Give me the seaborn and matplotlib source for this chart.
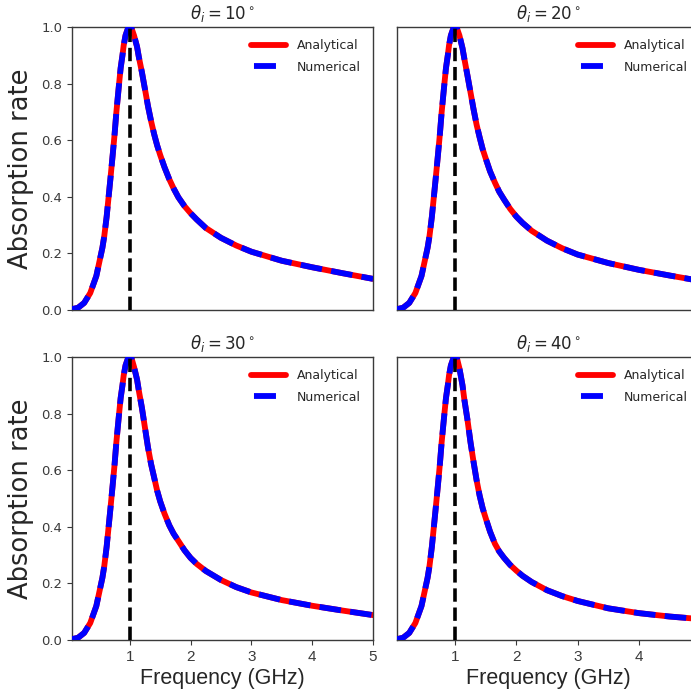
import numpy as np
import pandas as pd
import matplotlib
matplotlib.use("Agg")
import matplotlib.pyplot as plt
import seaborn as sns

# ---- data ----
freq_ghz = [0.05, 0.15, 0.25, 0.35, 0.45, 0.55, 0.58, 0.62, 0.68, 0.72, 0.75, 0.78, 0.82, 0.85,
            0.88, 0.9, 0.93, 0.97, 1.0, 1.03, 1.07, 1.12, 1.15, 1.2, 1.25, 1.3, 1.35, 1.4, 1.45,
            1.5, 1.57, 1.65, 1.72, 1.8, 1.9, 2.0, 2.1, 2.25, 2.5, 2.75, 3.0, 3.5, 4.0, 4.5, 5.0]
absorb_10 = [0.003, 0.008, 0.025, 0.06, 0.12, 0.22, 0.26, 0.33, 0.46, 0.55, 0.62, 0.70, 0.79, 0.855,
             0.90, 0.935, 0.97, 0.995, 1.0, 0.995, 0.97, 0.93, 0.893, 0.84, 0.78, 0.72, 0.668, 0.622, 0.582,
             0.548, 0.505, 0.462, 0.43, 0.398, 0.367, 0.342, 0.32, 0.29, 0.255, 0.228, 0.206, 0.174, 0.151, 0.13, 0.11]
absorb_20 = [0.003, 0.008, 0.025, 0.06, 0.12, 0.22, 0.26, 0.33, 0.46, 0.55, 0.62, 0.70, 0.79, 0.855,
             0.90, 0.935, 0.97, 0.995, 1.0, 0.995, 0.97, 0.925, 0.888, 0.83, 0.77, 0.71, 0.655, 0.61, 0.568,
             0.535, 0.49, 0.45, 0.418, 0.39, 0.357, 0.33, 0.308, 0.28, 0.245, 0.218, 0.196, 0.166, 0.142, 0.122, 0.103]
absorb_30 = [0.003, 0.008, 0.025, 0.06, 0.12, 0.22, 0.26, 0.33, 0.46, 0.55, 0.62, 0.70, 0.79, 0.855,
             0.90, 0.935, 0.97, 0.995, 1.0, 0.995, 0.965, 0.92, 0.88, 0.82, 0.75, 0.68, 0.622, 0.575, 0.528,
             0.49, 0.447, 0.405, 0.376, 0.35, 0.317, 0.29, 0.269, 0.244, 0.212, 0.187, 0.168, 0.141, 0.121, 0.104, 0.088]
absorb_40 = [0.003, 0.008, 0.025, 0.06, 0.12, 0.22, 0.26, 0.33, 0.46, 0.55, 0.62, 0.70, 0.79, 0.855,
             0.90, 0.935, 0.97, 0.995, 1.0, 0.995, 0.96, 0.90, 0.85, 0.78, 0.70, 0.63, 0.565, 0.51, 0.465,
             0.43, 0.383, 0.34, 0.313, 0.29, 0.265, 0.245, 0.227, 0.205, 0.176, 0.155, 0.138, 0.112, 0.095, 0.083, 0.074]
angles = [10, 20, 30, 40]
series = {10: absorb_10, 20: absorb_20, 30: absorb_30, 40: absorb_40}
resonance_ghz = 1.0
x_ticks_left = [1, 2, 3, 4, 5]
x_ticks_right = [1, 2, 3, 4]
y_ticks = [0.0, 0.2, 0.4, 0.6, 0.8, 1.0]

rows = []
for a in angles:
    for f, v in zip(freq_ghz, series[a]):
        rows.append({"angle": a, "freq": f, "absorption": v})
df = pd.DataFrame(rows)

sns.set_style("white")
plt.rcParams["font.family"] = ["DejaVu Sans"]
plt.rcParams["axes.edgecolor"] = "#3a3a3a"
plt.rcParams["xtick.color"] = "#3a3a3a"
plt.rcParams["ytick.color"] = "#3a3a3a"
plt.rcParams["xtick.major.size"] = 3.5
plt.rcParams["ytick.major.size"] = 3.5
plt.rcParams["xtick.bottom"] = True
plt.rcParams["ytick.left"] = True

W, H = 691, 695
fig = plt.figure(figsize=(W / 100, H / 100), dpi=100)

col_left = [72, 397]
col_w = [301, 303]
row_top = [27, 357]
row_h = 283

xfont = ["Liberation Sans", "DejaVu Sans"]
LW = 4.2

for idx, a in enumerate(angles):
    r, c = divmod(idx, 2)
    ax = fig.add_axes([col_left[c] / W, 1 - (row_top[r] + row_h) / H, col_w[c] / W, row_h / H])
    d = df[df["angle"] == a]
    sns.lineplot(data=d, x="freq", y="absorption", ax=ax, color="#ff0000", lw=LW,
                 label="Analytical", zorder=2)
    sns.lineplot(data=d, x="freq", y="absorption", ax=ax, color="#0000ff", lw=LW,
                 linestyle="--", label="Numerical", zorder=3)
    ax.axvline(resonance_ghz, color="black", lw=2.6, linestyle="--", zorder=4)
    ax.set_xlim(0.05, 5)
    ax.set_ylim(0, 1)
    xt = x_ticks_left if c == 0 else x_ticks_right
    ax.set_xticks(xt)
    ax.set_yticks(y_ticks)
    ax.set_yticklabels([f"{t:.1f}" for t in y_ticks], fontsize=9.5)
    ax.set_xticklabels([str(t) for t in xt], fontsize=11, family=xfont)
    ax.set_title(rf"$\theta_i = {a}^\circ$", fontsize=12, pad=6)
    for s in ax.spines.values():
        s.set_linewidth(1.0)
    if r == 0:
        ax.tick_params(axis="x", bottom=False, labelbottom=False)
        ax.set_xlabel("")
    else:
        ax.set_xlabel("Frequency (GHz)", fontsize=15.5, family=xfont, labelpad=3)
    if c == 1:
        ax.tick_params(axis="y", left=False, labelleft=False)
        ax.set_ylabel("")
    else:
        ax.set_ylabel("Absorption rate", fontsize=18.5, labelpad=5)
    leg = ax.legend(loc="upper right", frameon=False, fontsize=9, handlelength=2.8,
                    labelspacing=0.7, borderaxespad=0.55, handletextpad=0.9)
    lines = leg.get_lines()
    lines[1].set_linestyle((13.26, (3.77, 10)))

fig.savefig("out.png", dpi=100)
